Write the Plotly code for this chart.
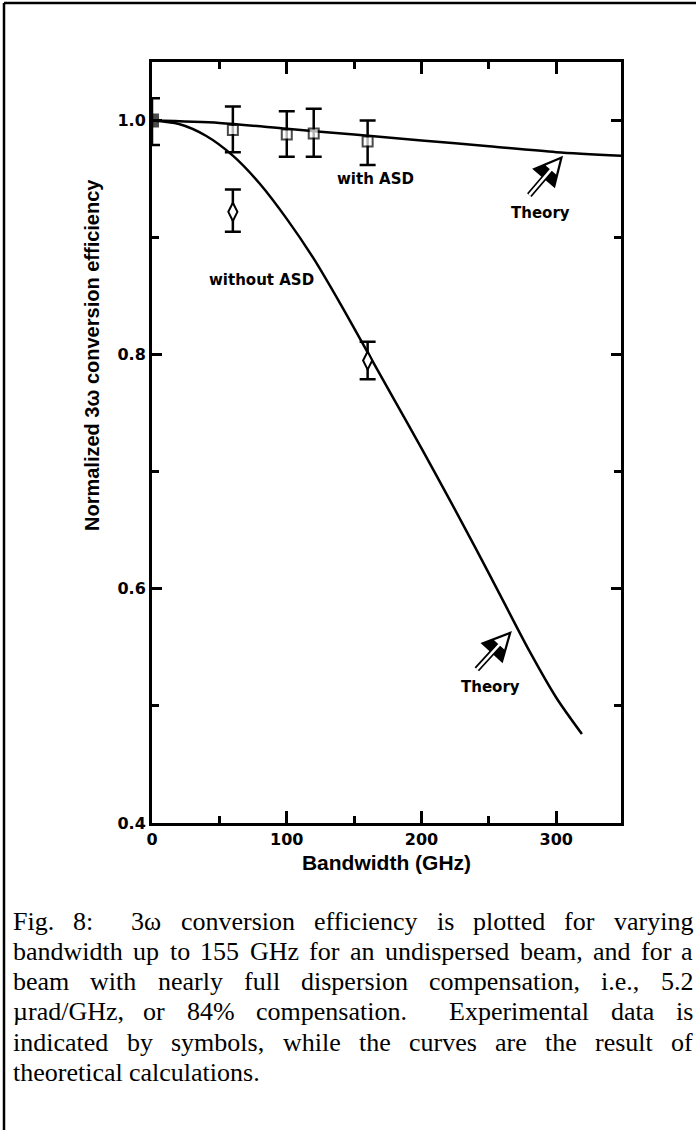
import plotly.graph_objects as go

# ---------------- data ----------------
theory_asd_x = [0, 50, 100, 150, 200, 250, 300, 348]
theory_asd_y = [1.000, 0.998, 0.993, 0.988, 0.983, 0.978, 0.973, 0.970]

theory_noasd_x = [0, 20, 40, 60, 80, 100, 120, 140, 160, 180, 200, 220, 240, 260, 280, 300, 319]
theory_noasd_y = [1.000, 0.997, 0.987, 0.970, 0.946, 0.916, 0.882, 0.843, 0.802, 0.761,
                  0.720, 0.678, 0.635, 0.591, 0.547, 0.507, 0.476]

asd_x = [0, 60, 100, 120, 160]
asd_y = [1.000, 0.992, 0.988, 0.989, 0.982]
asd_err_plus = [0.019, 0.020, 0.020, 0.021, 0.018]
asd_err_minus = [0.021, 0.019, 0.019, 0.020, 0.020]

noasd_x = [60, 160]
noasd_y = [0.922, 0.795]
noasd_err_plus = [0.019, 0.016]
noasd_err_minus = [0.017, 0.016]

x_ticks = [0, 100, 200, 300]
y_ticks = [0.4, 0.6, 0.8, 1.0]

caption_lines = [
    "Fig. 8:  3\u03c9 conversion efficiency is plotted for varying",
    "bandwidth up to 155 GHz for an undispersed beam, and for a",
    "beam with nearly full dispersion compensation, i.e., 5.2",
    "\u00b5rad/GHz, or 84% compensation.  Experimental data is",
    "indicated by symbols, while the curves are the result of",
    "theoretical calculations.",
]

# ---------------- layout helpers ----------------
W, H = 696, 1130
PL, PR, PT, PB = 152, 621, 62, 823


def pxx(px):
    return (px - PL) / (PR - PL)


def pxy(py):
    return (PB - py) / (PB - PT)


SANS = "DejaVu Sans"
HELV = "Liberation Sans"
SERIF = "Liberation Serif"

fig = go.Figure()

fig.add_trace(go.Scatter(x=theory_asd_x, y=theory_asd_y, mode="lines",
                         line=dict(color="black", width=2.5, shape="spline", smoothing=0.8),
                         showlegend=False, hoverinfo="skip"))
fig.add_trace(go.Scatter(x=theory_noasd_x, y=theory_noasd_y, mode="lines",
                         line=dict(color="black", width=2.5, shape="spline", smoothing=0.8),
                         showlegend=False, hoverinfo="skip"))

fig.add_trace(go.Scatter(
    x=asd_x, y=asd_y, mode="markers",
    marker=dict(symbol="square",
                size=[12] + [10] * (len(asd_x) - 1),
                color=["black"] + ["white"] * (len(asd_x) - 1),
                line=dict(color="black", width=2)),
    error_y=dict(type="data", array=asd_err_plus, arrayminus=asd_err_minus,
                 color="black", thickness=2.5, width=8),
    showlegend=False))

fig.add_trace(go.Scatter(
    x=noasd_x, y=noasd_y, mode="markers",
    marker=dict(symbol="diamond-tall", size=13, color="white",
                line=dict(color="black", width=2)),
    error_y=dict(type="data", array=noasd_err_plus, arrayminus=noasd_err_minus,
                 color="black", thickness=2.5, width=8),
    showlegend=False))

annotations = []
lab_font = dict(family=SANS, size=15, color="black", weight="bold")
annotations.append(dict(x=165.5, y=0.950, text="with ASD", showarrow=False, font=lab_font))
annotations.append(dict(x=81, y=0.864, text="without ASD", showarrow=False, font=lab_font))
annotations.append(dict(x=288, y=0.921, text="Theory", showarrow=False, font=lab_font))
annotations.append(dict(x=251, y=0.516, text="Theory", showarrow=False, font=lab_font))

# arrows (outlined look: black thick + white thin)
for (tx, ty, hx, hy) in [(279, 0.935, 305, 0.970), (240, 0.530, 267, 0.564)]:
    annotations.append(dict(x=hx, y=hy, ax=tx, ay=ty, axref="x", ayref="y", xref="x", yref="y",
                            text="", showarrow=True, arrowhead=2, arrowsize=1.0,
                            arrowwidth=6, arrowcolor="black", standoff=0))
    annotations.append(dict(x=hx, y=hy, ax=tx, ay=ty, axref="x", ayref="y", xref="x", yref="y",
                            text="", showarrow=True, arrowhead=2, arrowsize=1.1,
                            arrowwidth=2.5, arrowcolor="white", standoff=5))

# y-axis title (placed as in the reference, not centred on the axis)
annotations.append(dict(x=pxx(92), y=pxy(355), xref="paper", yref="paper", textangle=-90,
                        xanchor="center", yanchor="middle", showarrow=False,
                        text="Normalized 3\u03c9 conversion efficiency",
                        font=dict(family=HELV, size=20, color="black", weight="bold")))

# caption: justified word placement
TNR = {" ": 250, "%": 833, "(": 333, ")": 333, ",": 250, "-": 333, ".": 250, "/": 278, ":": 278,
       ";": 278, "\u03c9": 690, "\u00b5": 500}
for d in "0123456789":
    TNR[d] = 500
TNR.update(dict(A=722, B=667, C=667, D=722, E=611, F=556, G=722, H=722, I=333, J=389, K=722,
                L=611, M=889, N=722, O=722, P=556, Q=722, R=667, S=556, T=611, U=722, V=722,
                W=944, X=722, Y=722, Z=611))
TNR.update(dict(a=444, b=500, c=444, d=500, e=444, f=333, g=500, h=500, i=278, j=278, k=500,
                l=278, m=778, n=500, o=500, p=500, q=500, r=333, s=389, t=278, u=500, v=500,
                w=722, x=500, y=500, z=444))

CAP_SIZE = 26
CAP_L, CAP_R = 12, 692
cap_y = [921, 951, 981, 1011, 1042, 1072]


def tw(s):
    return sum(TNR.get(ch, 500) for ch in s) / 1000.0 * CAP_SIZE


for i, line in enumerate(caption_lines):
    toks = line.split(" ")
    words_w = sum(tw(t) for t in toks)
    if i < len(caption_lines) - 1:
        gap = (CAP_R - CAP_L - words_w) / (len(toks) - 1)
    else:
        gap = 0.25 * CAP_SIZE
    x = CAP_L
    for j, t in enumerate(toks):
        if t:
            annotations.append(dict(x=pxx(x), y=pxy(cap_y[i]), xref="paper", yref="paper",
                                    xanchor="left", yanchor="middle", text=t, showarrow=False,
                                    borderpad=0,
                                    font=dict(family=SERIF, size=CAP_SIZE, color="black")))
            x += tw(t)
        x += gap

shapes = [
    dict(type="line", xref="paper", yref="paper", x0=pxx(4), x1=pxx(4), y0=pxy(3), y1=pxy(1130),
         line=dict(color="black", width=2.5)),
    dict(type="line", xref="paper", yref="paper", x0=pxx(4), x1=pxx(696), y0=pxy(3), y1=pxy(3),
         line=dict(color="black", width=2.5)),
]

tick_font = dict(family=SANS, size=16, color="black", weight="bold")
fig.update_layout(
    width=W, height=H, autosize=False,
    margin=dict(l=PL, r=W - PR, t=PT, b=H - PB, pad=0),
    plot_bgcolor="white", paper_bgcolor="white",
    annotations=annotations, shapes=shapes,
    xaxis=dict(range=[0, 348], tickvals=x_ticks, ticktext=[str(v) for v in x_ticks],
               showline=True, linecolor="black", linewidth=3, mirror="ticks",
               ticks="inside", ticklen=12, tickwidth=2.5, tickcolor="black",
               minor=dict(dtick=50, tick0=0, ticks="inside", ticklen=7, tickwidth=2.5,
                          tickcolor="black", showgrid=False),
               showgrid=False, zeroline=False, tickfont=tick_font,
               title=dict(text="Bandwidth (GHz)", standoff=8,
                          font=dict(family=HELV, size=21, color="black", weight="bold"))),
    yaxis=dict(range=[0.4, 1.05], tickvals=y_ticks, ticktext=["%.1f" % v for v in y_ticks],
               showline=True, linecolor="black", linewidth=3, mirror="ticks",
               ticks="inside", ticklen=10, tickwidth=2.5, tickcolor="black",
               minor=dict(dtick=0.1, tick0=0.4, ticks="inside", ticklen=7, tickwidth=2.5,
                          tickcolor="black", showgrid=False),
               showgrid=False, zeroline=False, tickfont=tick_font),
)

fig.write_html("out.html")
